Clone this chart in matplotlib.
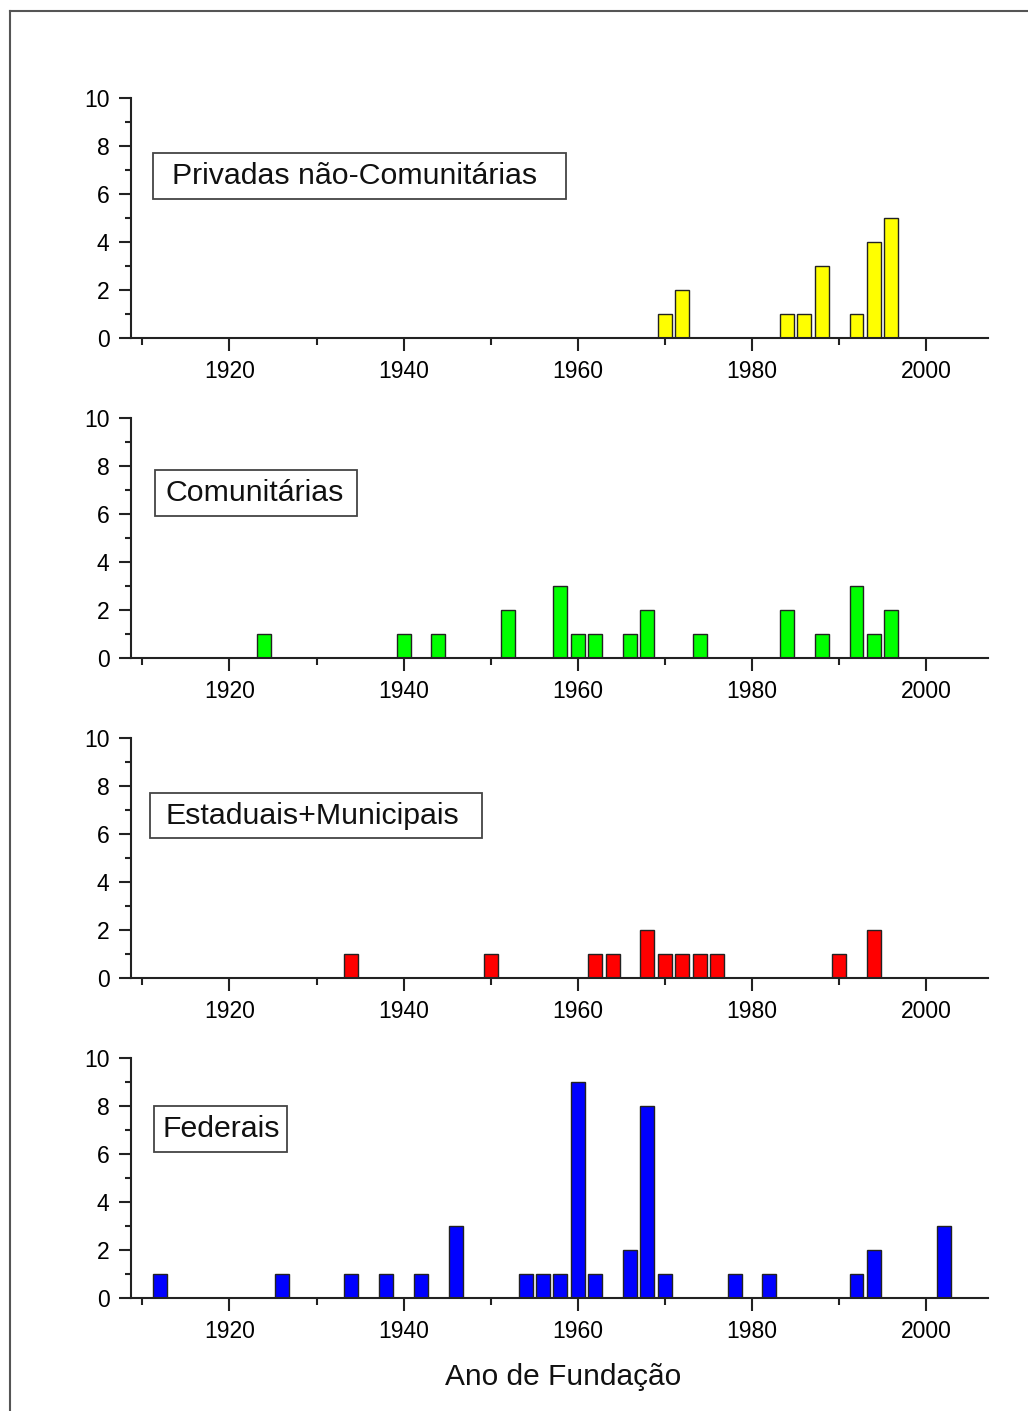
import matplotlib.pyplot as plt
from matplotlib.patches import Rectangle
from matplotlib.lines import Line2D
from matplotlib.ticker import MultipleLocator

plt.rcParams['font.family'] = ['Liberation Sans', 'DejaVu Sans']

### Dados (ano de fundação, número de instituições)
anos_privadas = [1970, 1972, 1984, 1986, 1988, 1992, 1994, 1996]
n_privadas = [1, 2, 1, 1, 3, 1, 4, 5]

anos_comunitarias = [1924, 1940, 1944, 1952, 1958, 1960, 1962, 1966, 1968,
                     1974, 1984, 1988, 1992, 1994, 1996]
n_comunitarias = [1, 1, 1, 2, 3, 1, 1, 1, 2, 1, 2, 1, 3, 1, 2]

anos_estaduais = [1934, 1950, 1962, 1964, 1968, 1970, 1972, 1974, 1976, 1990, 1994]
n_estaduais = [1, 1, 1, 1, 2, 1, 1, 1, 1, 1, 2]

anos_federais = [1912, 1926, 1934, 1938, 1942, 1946, 1954, 1956, 1958, 1960,
                 1962, 1966, 1968, 1970, 1978, 1982, 1992, 1994, 2002]
n_federais = [1, 1, 1, 1, 1, 3, 1, 1, 1, 9, 1, 2, 8, 1, 1, 1, 1, 2, 3]

rotulos = ['Privadas não-Comunitárias', 'Comunitárias',
           'Estaduais+Municipais', 'Federais']
cores = ['#FFFF00', '#00FF00', '#FF0000', '#0000FF']

series = [(anos_privadas, n_privadas), (anos_comunitarias, n_comunitarias),
          (anos_estaduais, n_estaduais), (anos_federais, n_federais)]

# caixas de texto (fração dos eixos): x0, x1, y0, y1, x do texto
caixas = [(0.0257, 0.5076, 0.579, 0.771, 0.0478),
          (0.0280, 0.2637, 0.592, 0.783, 0.0397),
          (0.0222, 0.4096, 0.583, 0.771, 0.0397),
          (0.0268, 0.1820, 0.608, 0.800, 0.0373)]

W, H = 1028, 1411
fig = plt.figure(figsize=(W / 100, H / 100), dpi=100)

left = 131 / W
width = (988 - 131) / W
h = 240 / H
bottoms = [338, 658, 978, 1298]

for i, ((anos, n), rot, cor, cx) in enumerate(zip(series, rotulos, cores, caixas)):
    ax = fig.add_axes([left, (H - bottoms[i]) / H, width, h])
    ax.bar(anos, n, width=1.6, color=cor, edgecolor='#222222', linewidth=1.0, zorder=2)
    ax.set_xlim(1908.7, 2007.1)
    ax.set_ylim(0, 10)
    ax.spines['top'].set_visible(False)
    ax.spines['right'].set_visible(False)
    for s in ['left', 'bottom']:
        ax.spines[s].set_linewidth(1.5)
        ax.spines[s].set_color('#222222')
        ax.spines[s].set_zorder(3)
    ax.xaxis.set_major_locator(MultipleLocator(20))
    ax.xaxis.set_minor_locator(MultipleLocator(10))
    ax.yaxis.set_major_locator(MultipleLocator(2))
    ax.yaxis.set_minor_locator(MultipleLocator(1))
    ax.tick_params(which='major', direction='out', length=9, width=1.5,
                   color='#222222', labelsize=16.5, pad=6.5)
    ax.tick_params(which='minor', direction='out', length=4.5, width=1.5,
                   color='#222222')
    ax.tick_params(axis='x', which='minor', length=5)

    x0, x1, y0, y1, xt = cx
    ax.add_patch(Rectangle((x0, y0), x1 - x0, y1 - y0, transform=ax.transAxes,
                           facecolor='white', edgecolor='#444444', linewidth=1.3,
                           zorder=4))
    ax.text(xt, (y0 + y1) / 2, rot, transform=ax.transAxes, ha='left',
            va='center', fontsize=21.8, color='#111111', zorder=5)

    if i == 3:
        ax.set_xlabel('Ano de Fundação', fontsize=21.5, color='#111111')
        ax.xaxis.set_label_coords((563.5 - 131) / 857, (1298 - 1377) / 240)
        ax.xaxis.label.set_va('center')

# moldura da figura
fig.add_artist(Line2D([9.5 / W, 9.5 / W], [0, 1 - 11 / H], color='#555555', linewidth=1.5))
fig.add_artist(Line2D([9.5 / W, 1], [1 - 11 / H, 1 - 11 / H], color='#555555', linewidth=1.5))

fig.savefig('out.png', dpi=100)
